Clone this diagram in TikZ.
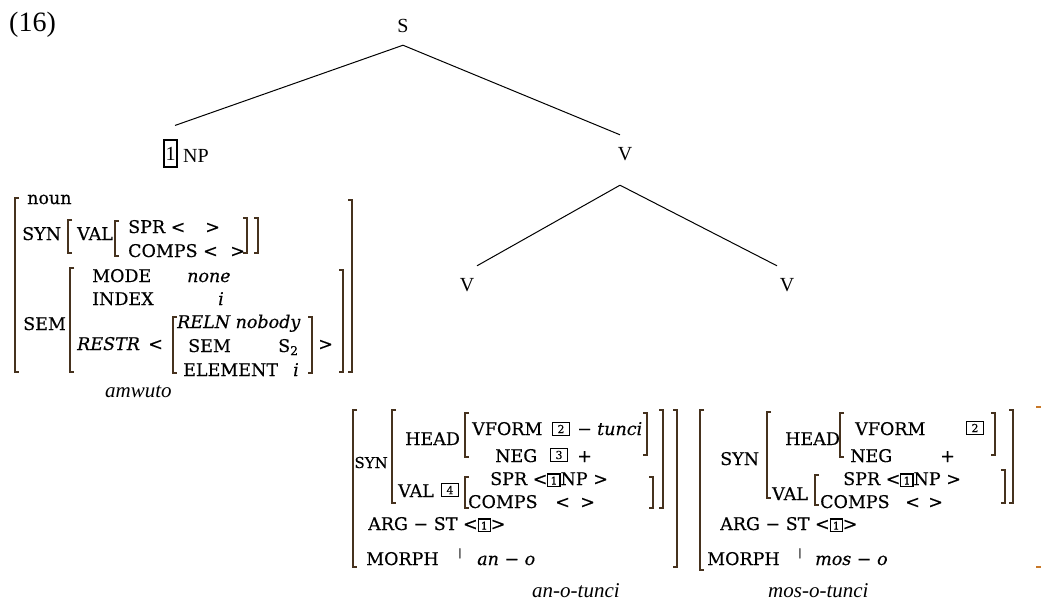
\documentclass[tikz,border=0pt]{standalone}
\usepackage{fontspec}
\setmainfont{Liberation Serif}
\newfontfamily\avmfont[FakeBold=0.4]{DejaVu Serif}
\newcommand\fsz[1]{\fontsize{#1}{#1}\selectfont}
\newcommand\tagb[1]{{\setlength\fboxsep{0pt}\setlength\fboxrule{1.1pt}\raisebox{-0.5pt}{\fbox{\makebox[11pt][c]{\rule{0pt}{11pt}\fsz{10.5}\raisebox{1pt}{#1}}}}}}
\definecolor{brk}{RGB}{70,50,30}
\definecolor{brko}{RGB}{200,120,40}
\newcommand\avmLB[3]{\draw[br] ({#1+4},#2) -- (#1,#2) -- (#1,#3) -- ({#1+4},#3);}
\newcommand\avmRB[3]{\draw[br] ({#1-4},#2) -- (#1,#2) -- (#1,#3) -- ({#1-4},#3);}
\tikzset{
  avm/.style={font=\avmfont\fsz{17.5}, inner sep=0pt, anchor=base west},
  avmi/.style={avm, font=\avmfont\itshape\fsz{17.5}},
  bar/.style={avm, font=\avmfont\fsz{10}},
  tree/.style={font=\fsz{20}, inner sep=0pt},
  word/.style={font=\itshape\fsz{21}, inner sep=0pt, anchor=base west},
  tag/.style={draw, line width=1.2pt, minimum width=17pt, minimum height=13pt, inner sep=0pt, font=\avmfont\fsz{11}},
  br/.style={line width=1.2pt, draw=brk},
  edge/.style={line width=1pt}
}
\begin{document}
\begin{tikzpicture}[x=1pt,y=-1pt]
\useasboundingbox (0,0) rectangle (1041,600);
% ---------- tree ----------
\node[font=\fsz{28}, inner sep=0pt, anchor=base west] (num) at (9,31) {(16)};
\node[tree] (S) at (403,26) {S};
\node[draw, line width=1.1pt, minimum width=13pt, minimum height=27pt, inner sep=0pt, font=\fsz{20}] (t1) at (170.5,153.5) {1};
\node[tree, anchor=base west] (NP) at (183,162) {NP};
\node[tree] (V) at (625,154) {V};
\node[tree] (Vl) at (467,285) {V};
\node[tree] (Vr) at (787,285) {V};
\draw[edge] ([yshift=-12.3pt]S.south) -- ([shift={(4.5pt,14pt)}]t1.north);
\draw[edge] ([yshift=-12.3pt]S.south) -- ([shift={(-5pt,12.3pt)}]V.north);
\draw[edge] ([shift={(-5pt,-24.3pt)}]V.south) -- ([shift={(10pt,12.3pt)}]Vl.north);
\draw[edge] ([shift={(-5pt,-24.3pt)}]V.south) -- ([shift={(-10pt,12.3pt)}]Vr.north);
% ---------- left AVM (amwuto) ----------
\avmLB{15}{198}{372}
\avmRB{352}{200}{372}
\node[avm] (a1) at (27,204) {noun};
\node[avm] (a2) at (22,240) {SYN};
\avmLB{68}{220}{253}
\node[avm] (a3) at (77,240) {VAL};
\avmLB{115}{221}{256}
\node[avm] (a4) at (128,233) {SPR <};
\node[avm] (a5) at (205,233) {>};
\node[avm] (a6) at (128,257) {COMPS <};
\node[avm] (a7) at (230,257) {>};
\avmRB{247}{218}{253}
\avmRB{258}{218}{253}
\avmLB{70}{268}{372}
\avmRB{343}{270}{372}
\node[avm] (a8) at (92,282) {MODE};
\node[avmi] (a9) at (187,282) {none};
\node[avm] (a10) at (92,305) {INDEX};
\node[avmi] (a11) at (218,305) {i};
\node[avm] (a12) at (23,330) {SEM};
\node[avmi] (a13) at (77,350) {RESTR};
\node[avm] (a14) at (148,350) {<};
\avmLB{173}{317}{373}
\avmRB{312}{317}{373}
\node[avmi] (a15) at (177,328) {RELN nobody};
\node[avm] (a16) at (188,352) {SEM};
\node[avm] (a17) at (278,352) {S\textsubscript{2}};
\node[avm] (a18) at (183,376) {ELEMENT};
\node[avmi] (a19) at (293,376) {i};
\node[avm] (a20) at (318,350) {>};
\node[word] (w1) at (105,397) {amwuto};
% ---------- lower-left AVM (an-o-tunci) ----------
\avmLB{353}{410}{567}
\node[avm, anchor=base east, font=\avmfont\fsz{15}] (b1) at (388,468) {SYN};
\avmLB{392}{410}{503}
\node[avm] (b2) at (405,445) {HEAD};
\avmLB{465}{413}{457}
\avmRB{647}{413}{455}
\node[avm] (b3) at (472,435) {VFORM};
\node[tag] (b4) at (561,429) {2};
\node[avm] (b5) at (577,435) {−};
\node[avmi] (b6) at (597,435) {tunci};
\node[avm] (b7) at (495,462) {NEG};
\node[tag] (b8) at (559,455) {3};
\node[avm] (b9) at (577,462) {+};
\node[avm] (b10) at (398,497) {VAL};
\node[tag] (b11) at (450,490) {4};
\avmLB{465}{477}{508}
\node[avm] (b12) at (490,485) {SPR <\tagb{1}NP >};
\node[avm] (b13) at (468,508) {COMPS};
\node[avm] (b14) at (555,508) {<};
\node[avm] (b15) at (580,508) {>};
\avmRB{653}{477}{508}
\avmRB{663}{410}{508}
\node[avm] (b16) at (368,530) {ARG − ST <\tagb{1}>};
\node[avm] (b17) at (366,565) {MORPH};
\node[bar] (b18) at (458,556) {|};
\node[avmi] (b19) at (477,565) {an − o};
\avmRB{677}{410}{567}
\node[word] (w2) at (532,597) {an-o-tunci};
% ---------- lower-right AVM (mos-o-tunci) ----------
\avmLB{700}{410}{570}
\node[avm] (c1) at (720,465) {SYN};
\avmLB{767}{412}{498}
\node[avm] (c2) at (785,445) {HEAD};
\avmLB{840}{413}{457}
\avmRB{995}{413}{455}
\node[avm] (c3) at (855,435) {VFORM};
\node[tag] (c4) at (975,428) {2};
\node[avm] (c5) at (850,462) {NEG};
\node[avm] (c6) at (940,462) {+};
\node[avm] (c7) at (772,500) {VAL};
\avmLB{815}{475}{505}
\node[avm] (c8) at (843,485) {SPR <\tagb{1}NP >};
\node[avm] (c9) at (820,508) {COMPS};
\node[avm] (c10) at (905,508) {<};
\node[avm] (c11) at (928,508) {>};
\avmRB{1005}{470}{503}
\avmRB{1013}{410}{503}
\node[avm] (c12) at (720,530) {ARG − ST <\tagb{1}>};
\node[avm] (c13) at (707,565) {MORPH};
\node[bar] (c14) at (798,556) {|};
\node[avmi] (c15) at (815,565) {mos − o};
\node[word] (w3) at (768,597) {mos-o-tunci};
\draw[line width=1.2pt, brko] (1036,407) -- (1041,407);
\draw[line width=1.2pt, brko] (1036,567) -- (1041,567);
\end{tikzpicture}
\end{document}
